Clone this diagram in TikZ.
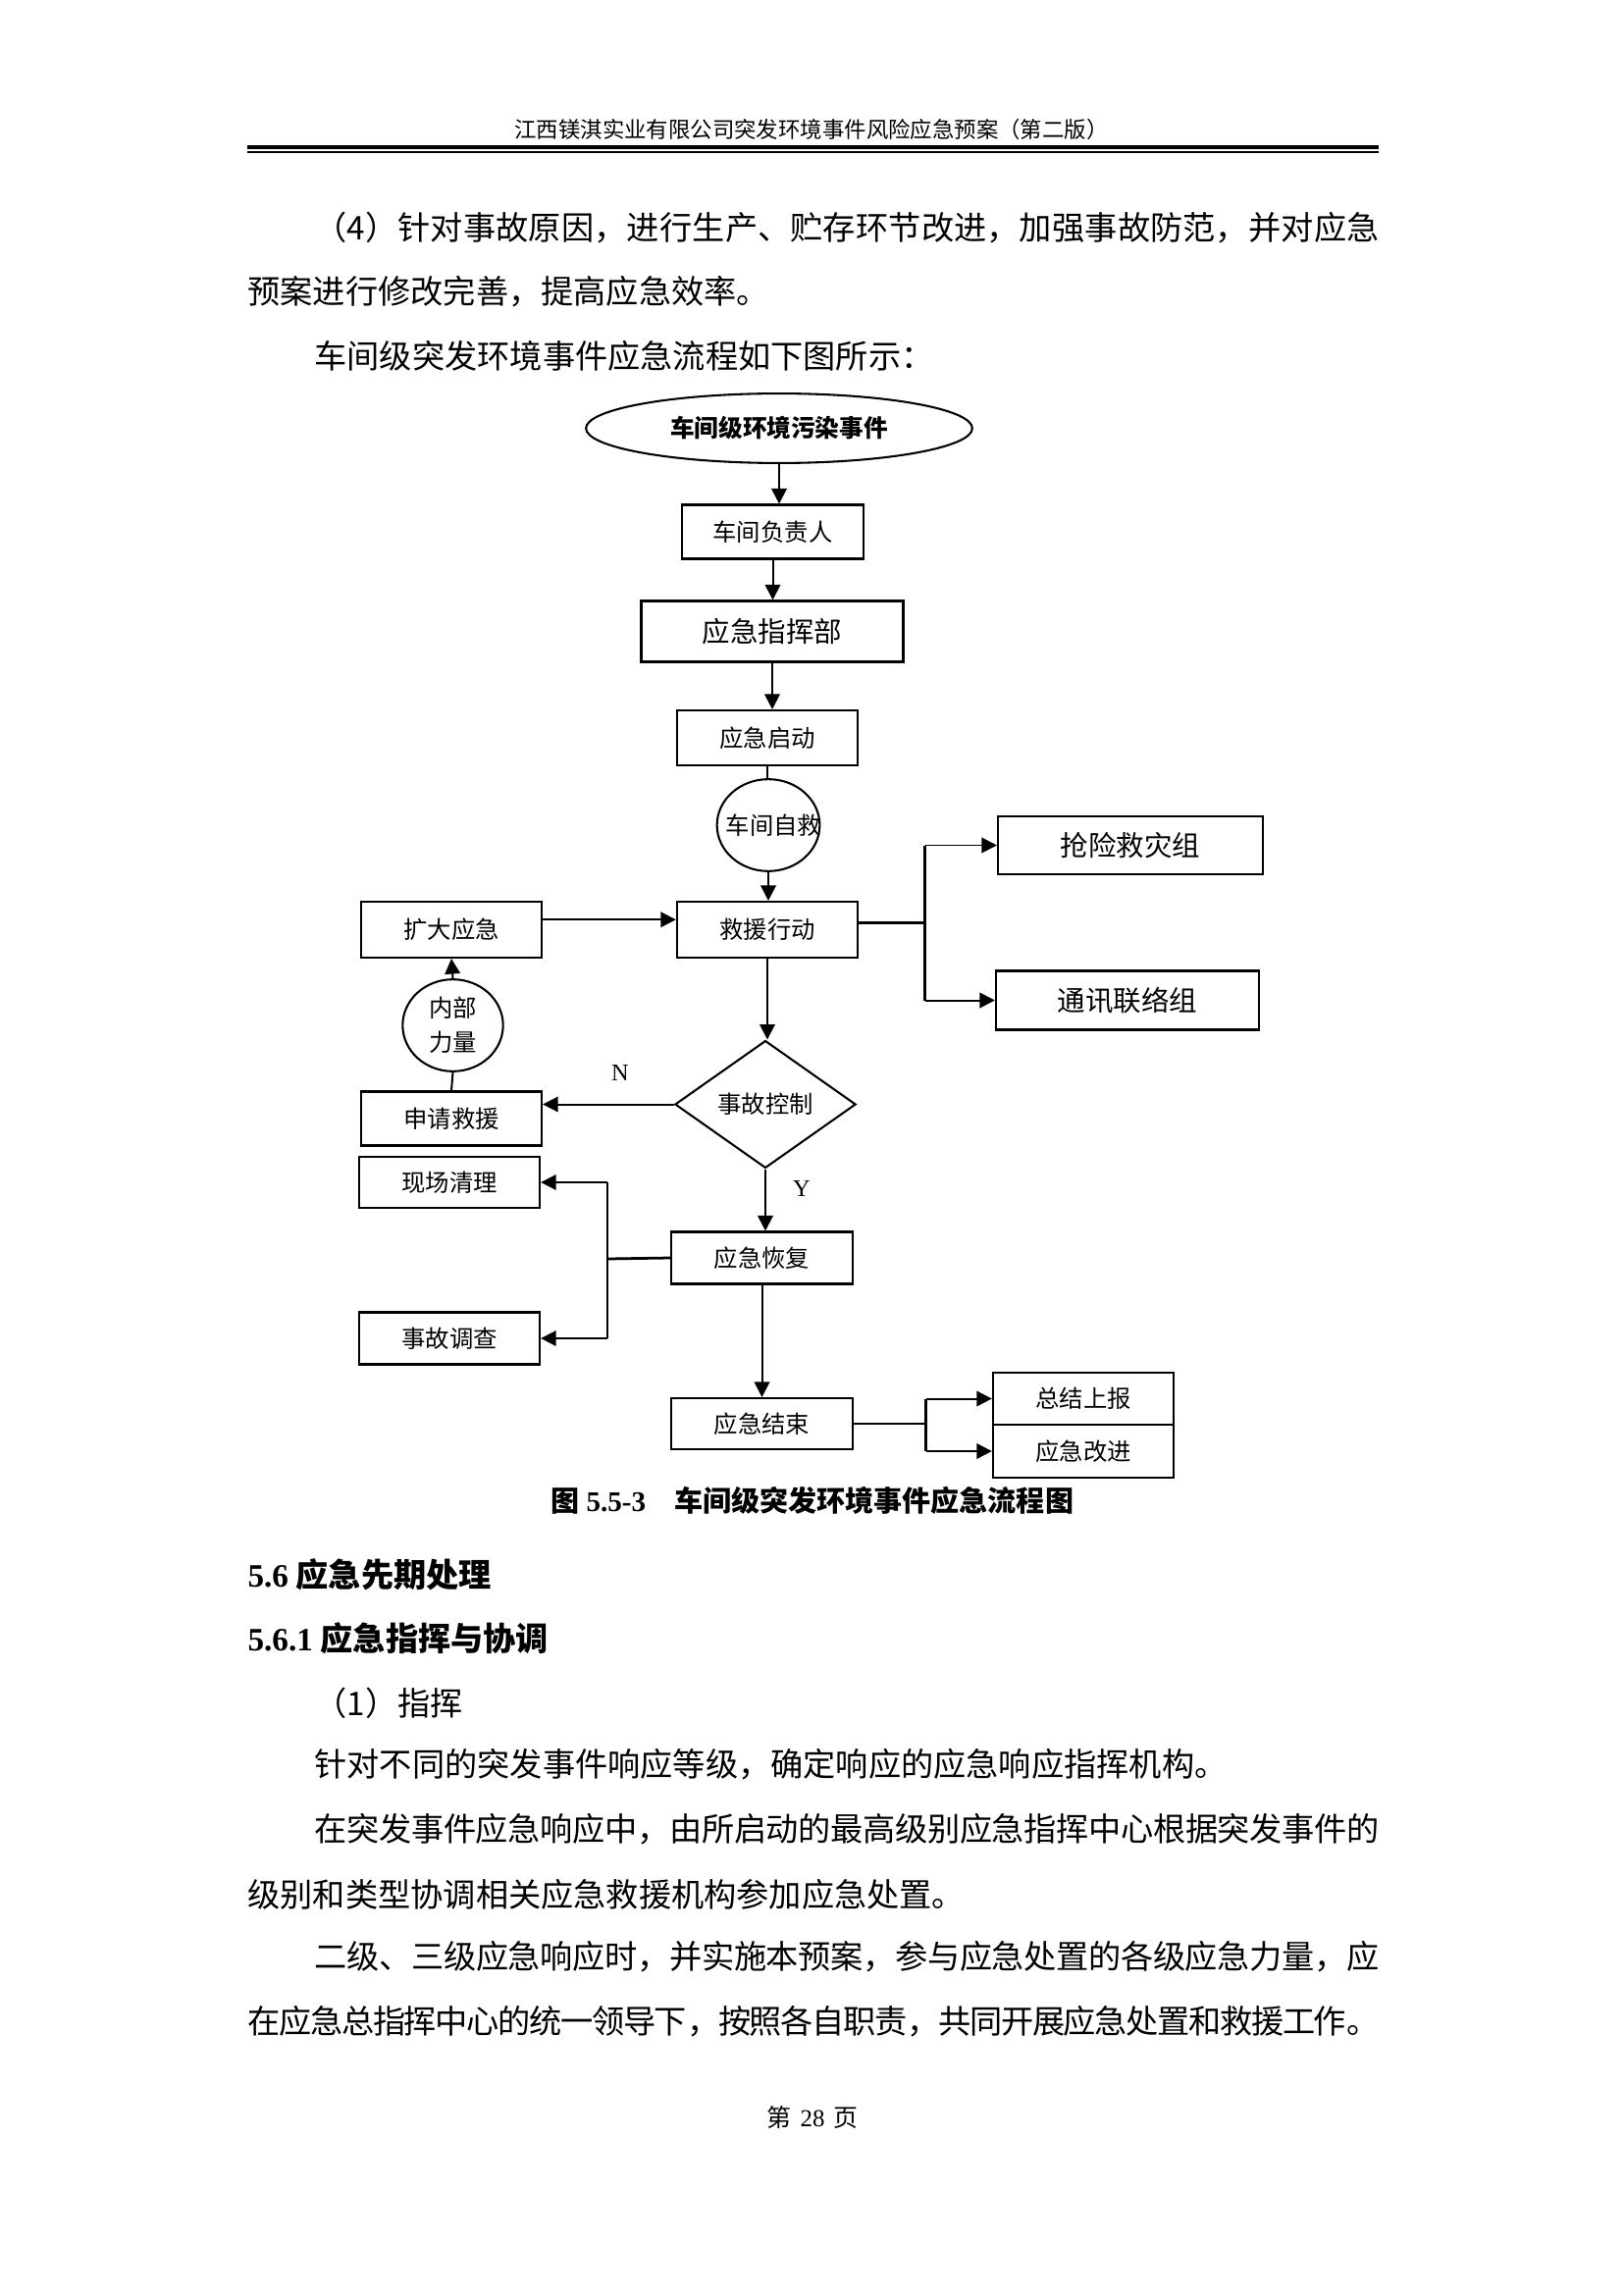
\documentclass[tikz,border=0pt]{standalone}
\usepackage{fontspec}
\setmainfont{Noto Sans CJK SC}
\newfontfamily\latin{Liberation Serif}
\usetikzlibrary{shapes.geometric,arrows.meta}
\XeTeXlinebreaklocale "zh"
\XeTeXlinebreakskip=0pt plus 2pt minus 1pt
% one justified line of body text
\newcommand{\fullline}[2]{\parbox{#1}{\parfillskip=0pt\relax #2}}

\begin{document}
\begin{tikzpicture}[x=0.127mm, y=-0.127mm,
    box/.style={draw, line width=0.75pt, minimum width=23.4mm, inner sep=0pt, font=\fontsize{8.8}{10}\selectfont},
    widebox/.style={box, font=\fontsize{10.3}{12}\selectfont},
    oval/.style={draw, ellipse, line width=0.75pt, inner sep=0pt, align=center, font=\fontsize{8.8}{12.5}\selectfont},
    arr/.style={-{Triangle[length=5.6pt,width=5.6pt]}, line width=0.72pt},
    link/.style={line width=0.72pt},
    stub/.style={line width=1pt},
    body/.style={anchor=west, inner sep=0pt, font=\fontsize{12}{14}\selectfont}]
    \fill[white] (0,0) rectangle (1654,2339);
    \useasboundingbox (0,0) rectangle (1654,2339);

    % Page header
    \node[inner sep=0pt, font=\fontsize{8.1}{9}\selectfont] (header) at (827,132) {江西镁淇实业有限公司突发环境事件风险应急预案（第二版）};
    \draw[line width=1.7pt] (252,150) -- (1405,150);
    \draw[line width=0.7pt] (252,155) -- (1405,155);

    % Text before the chart
    \node[body] (para1) at (320,232.5) {\fullline{137.8mm}{（4）针对事故原因，进行生产、贮存环节改进，加强事故防范，并对应急}};
    \node[body] (para2) at (252,297.5) {预案进行修改完善，提高应急效率。};
    \node[body] (para3) at (320,362.5) {车间级突发环境事件应急流程如下图所示：};

    % Start event
    \node[oval, minimum width=50mm, minimum height=9mm, font=\bfseries\fontsize{8.9}{10}\selectfont] (event) at (794,436.5) {车间级环境污染事件};

    % Plain boxes
    \foreach \name/\x/\y/\h/\txt in {leader/787.5/542/55/车间负责人, launch/782/752/56/应急启动,
        action/782/947.5/57/救援行动, expand/460/947.5/57/扩大应急, request/460/1140/55/申请救援,
        cleanup/458/1205/52/现场清理, recover/776.5/1282/53/应急恢复, survey/458/1364/53/事故调查,
        finish/776.5/1451/52/应急结束, report/1104/1425.5/53/总结上报, improve/1104/1479/54/应急改进} {
        \node[box, minimum height=\h*0.127mm] (\name) at (\x,\y) {\txt};
    }

    % Wide boxes
    \foreach \name/\x/\y/\w/\h/\txt in {command/787/643.5/267/62/应急指挥部,
        rescue/1152/861.5/270/59/抢险救灾组, comm/1149/1019.5/268/60/通讯联络组} {
        \node[widebox, minimum width=\w*0.127mm, minimum height=\h*0.127mm] (\name) at (\x,\y) {\txt};
    }

    % Circles and decision
    \node[oval, minimum width=13.3mm, minimum height=11.9mm] (selfhelp) at (783,841) {\makebox[0pt]{\hspace{4pt}车间自救}};
    \node[oval, minimum width=13mm, minimum height=11.9mm] (inner) at (461.5,1045) {内部\\力量};
    \node[draw, diamond, line width=0.75pt, inner sep=0pt, minimum width=23.4mm, minimum height=16.5mm,
        font=\fontsize{8.8}{10}\selectfont] (control) at (780,1125.5) {事故控制};
    \node[font=\latin\fontsize{8.8}{10}\selectfont] (nolabel) at (632,1094) {N};
    \node[font=\latin\fontsize{8.8}{10}\selectfont] (yeslabel) at (817,1212) {Y};

    % Branch points
    \coordinate (split1) at (942.5,940.5);
    \coordinate (split2) at (619,1283);
    \coordinate (split3) at (943.5,1451);

    % Connections
    \draw[arr] (event.south) -- (event.south |- leader.north);
    \draw[arr] (leader.south) -- (leader.south |- command.north);
    \draw[arr] (command.south) -- (command.south |- launch.north);
    \draw[link] (launch.south) -- (launch.south |- selfhelp.north);
    \draw[arr] (selfhelp.south) -- (selfhelp.south |- action.north);
    \draw[arr] ([yshift=1.3mm]expand.east) -- ([yshift=1.3mm]expand.east -| action.west);
    \draw[stub] (split1 -| action.east) -- (split1);
    \draw[stub] (split1 |- rescue.west) -- (split1 |- comm.west);
    \draw[arr] (split1 |- rescue.west) -- (rescue.west);
    \draw[arr] (split1 |- comm.west) -- (comm.west);
    \draw[arr] (action.south) -- (action.south |- control.north);
    \draw[arr] (control.west) -- (control.west -| request.east);
    \draw[link] (request.north) -- (inner.south);
    \draw[arr] (inner.north) -- (expand.south);
    \draw[arr] (control.south) -- (control.south |- recover.north);
    \draw[stub] (recover.west) -- (split2);
    \draw[stub] (split2 |- cleanup.east) -- (split2 |- survey.east);
    \draw[arr] (split2 |- cleanup.east) -- (cleanup.east);
    \draw[arr] (split2 |- survey.east) -- (survey.east);
    \draw[arr] (recover.south) -- (recover.south |- finish.north);
    \draw[stub] (finish.east) -- (split3);
    \draw[stub] (split3 |- report.west) -- (split3 |- improve.west);
    \draw[arr] (split3 |- report.west) -- (report.west);
    \draw[arr] (split3 |- improve.west) -- (improve.west);

    % Caption
    \node[inner sep=0pt, font=\bfseries\fontsize{10.5}{12}\selectfont] (caption) at (828,1529) {图 {\latin 5.5-3}\quad 车间级突发环境事件应急流程图};

    % Text after the chart
    \node[body, font=\bfseries\fontsize{12}{14}\selectfont] (sec) at (252,1605) {{\latin 5.6} 应急先期处理};
    \node[body, font=\bfseries\fontsize{12}{14}\selectfont] (subsec) at (252,1669.5) {{\latin 5.6.1} 应急指挥与协调};
    \node[body] (para4) at (320,1736) {（1）指挥};
    \node[body] (para5) at (320,1798.5) {针对不同的突发事件响应等级，确定响应的应急响应指挥机构。};
    \node[body] (para6) at (320,1864.5) {\fullline{137.8mm}{在突发事件应急响应中，由所启动的最高级别应急指挥中心根据突发事件的}};
    \node[body] (para7) at (252,1930.5) {级别和类型协调相关应急救援机构参加应急处置。};
    \node[body] (para8) at (320,1994) {\fullline{137.8mm}{二级、三级应急响应时，并实施本预案，参与应急处置的各级应急力量，应}};
    \node[body] (para9) at (252,2060) {\fullline{146.4mm}{在应急总指挥中心的统一领导下，按照各自职责，共同开展应急处置和救援工作。}};

    % Page number
    \node[inner sep=0pt, font=\fontsize{9}{10}\selectfont] (pagenum) at (828,2158) {第\hspace{0.35em}{\latin 28}\hspace{0.35em}页};
\end{tikzpicture}
\end{document}
